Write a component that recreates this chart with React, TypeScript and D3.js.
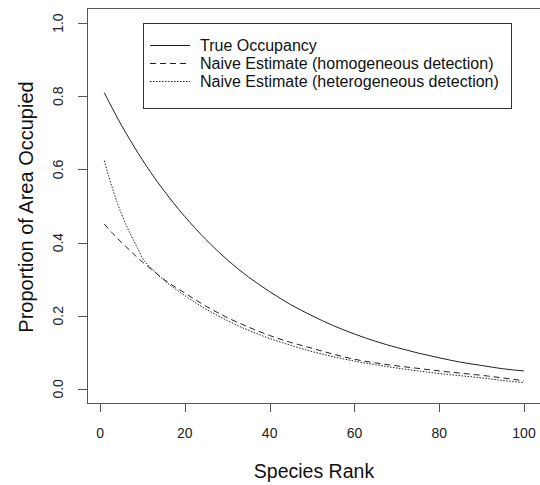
import React from "react";
import * as d3 from "d3";

const ranks = [1, 2, 3, 4, 5, 6, 7, 8, 9, 10, 12, 15, 20, 25, 30, 35, 40, 45, 50, 55, 60, 65, 70, 75, 80, 85, 90, 95, 100];
const trueOccupancy = [0.81, 0.787, 0.765, 0.743, 0.722, 0.702, 0.682, 0.663, 0.644, 0.626, 0.591, 0.543, 0.471, 0.408, 0.353, 0.306, 0.266, 0.23, 0.2, 0.173, 0.15, 0.13, 0.113, 0.098, 0.085, 0.073, 0.064, 0.055, 0.049];
const naiveHomogeneous = [0.451, 0.437, 0.425, 0.413, 0.401, 0.39, 0.379, 0.368, 0.357, 0.347, 0.328, 0.3, 0.262, 0.226, 0.195, 0.169, 0.146, 0.127, 0.111, 0.095, 0.081, 0.071, 0.063, 0.056, 0.049, 0.043, 0.037, 0.03, 0.022];
const naiveHeterogeneous = [0.624, 0.583, 0.546, 0.511, 0.48, 0.452, 0.427, 0.404, 0.381, 0.358, 0.331, 0.298, 0.255, 0.218, 0.187, 0.16, 0.138, 0.119, 0.102, 0.088, 0.076, 0.066, 0.057, 0.049, 0.042, 0.036, 0.03, 0.023, 0.017];

const xTicks = [0, 20, 40, 60, 80, 100];
const yTicks = [0, 0.2, 0.4, 0.6, 0.8, 1.0];
const legendLabels = ["True Occupancy", "Naive Estimate (homogeneous detection)", "Naive Estimate (heterogeneous detection)"];
const dashes = ["none", "6 4", "1.5 1.5"];

export default function App() {
  const x = d3.scaleLinear().domain([-2.96, 103.96]).range([87.5, 540.8]);
  const y = d3.scaleLinear().domain([-0.04, 1.04]).range([403.5, 8.5]);
  const series = [trueOccupancy, naiveHomogeneous, naiveHeterogeneous];
  const line = d3
    .line<[number, number]>()
    .x((d) => x(d[0]))
    .y((d) => y(d[1]))
    .curve(d3.curveMonotoneX);
  const font = "Liberation Sans, Arial, sans-serif";
  const axisColor = "#555";
  const textColor = "#222";
  return (
    <svg
      width={540}
      height={485}
      style={{ position: "absolute", left: 0, top: 0, background: "#fff" }}
      fontFamily={font}
    >
      <rect x={0} y={0} width={540} height={485} fill="#fff" />
      {/* plot box */}
      <rect x={87.5} y={8.5} width={456} height={395} fill="none" stroke={axisColor} strokeWidth={1} />
      {/* x axis ticks */}
      {xTicks.map((t) => (
        <g key={"x" + t}>
          <line x1={Math.round(x(t)) + 0.5} x2={Math.round(x(t)) + 0.5} y1={403.5} y2={412} stroke={axisColor} />
          <text x={x(t)} y={438} textAnchor="middle" fontSize={14} fill={textColor}>
            {t}
          </text>
        </g>
      ))}
      {/* y axis ticks */}
      {yTicks.map((t) => (
        <g key={"y" + t}>
          <line x1={78} x2={87.5} y1={Math.round(y(t)) + 0.5} y2={Math.round(y(t)) + 0.5} stroke={axisColor} />
          <text
            transform={`translate(63,${y(t)}) rotate(-90)`}
            textAnchor="middle"
            fontSize={14}
            fill={textColor}
          >
            {t.toFixed(1)}
          </text>
        </g>
      ))}
      {/* axis titles */}
      <text x={314} y={478} textAnchor="middle" fontSize={19.5} fill="#111">
        Species Rank
      </text>
      <text transform="translate(33,207) rotate(-90)" textAnchor="middle" fontSize={20} fill="#111">
        Proportion of Area Occupied
      </text>
      {/* series */}
      {series.map((vals, i) => (
        <path
          key={"s" + i}
          d={line(ranks.map((r, j) => [r, vals[j]] as [number, number])) || ""}
          fill="none"
          stroke="#222"
          strokeWidth={1}
          strokeDasharray={dashes[i]}
        />
      ))}
      {/* legend */}
      <rect x={143.5} y={23.5} width={368} height={85} fill="#fff" stroke="#333" strokeWidth={1} />
      {legendLabels.map((lab, i) => (
        <g key={"l" + i}>
          <line x1={150} x2={190} y1={45.5 + i * 18} y2={45.5 + i * 18} stroke="#222" strokeDasharray={dashes[i]} />
          <text x={200} y={51 + i * 18} fontSize={16} fill="#111">
            {lab}
          </text>
        </g>
      ))}
    </svg>
  );
}
